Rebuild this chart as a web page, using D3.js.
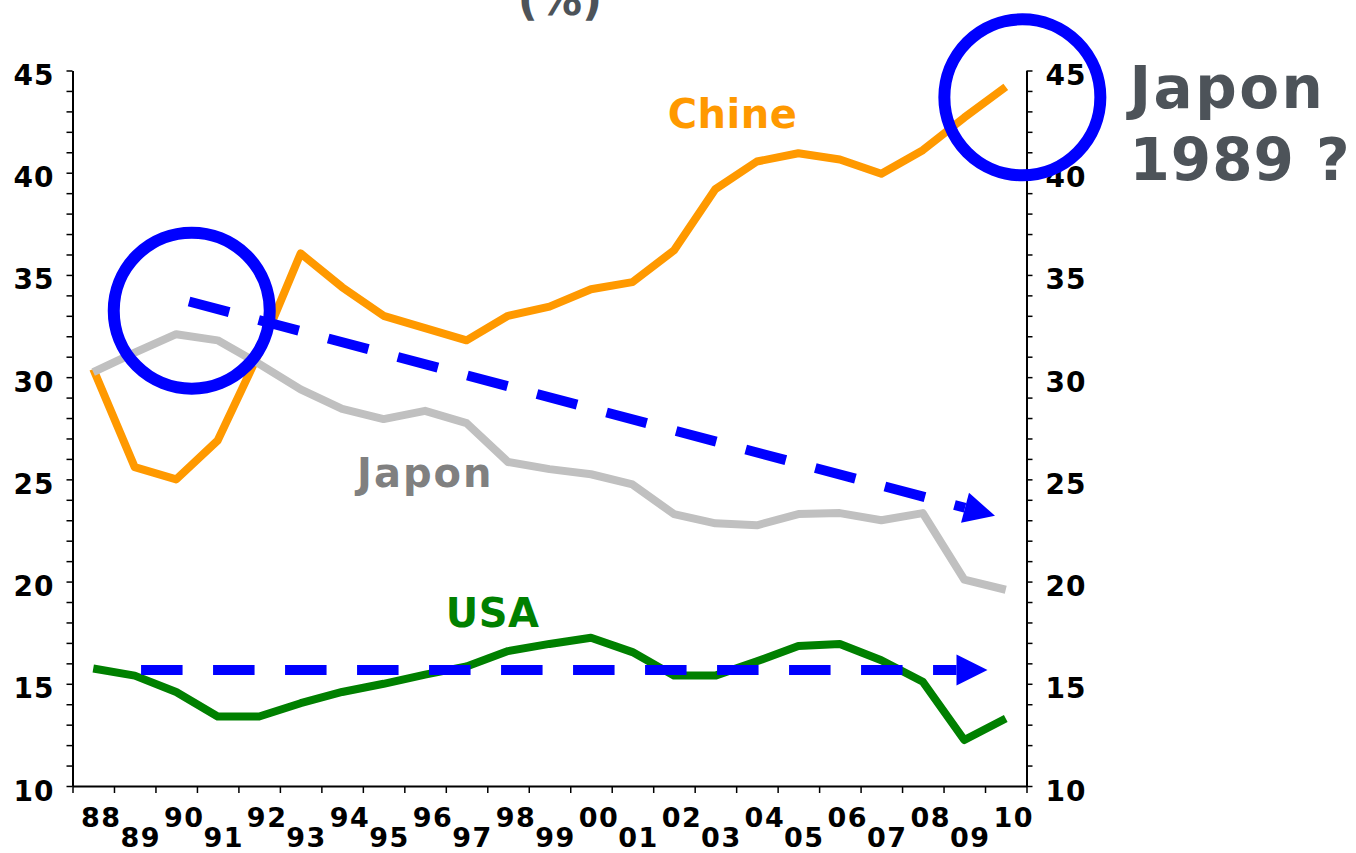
<!DOCTYPE html>
<html>
<head>
<meta charset="utf-8">
<script src="https://cdn.jsdelivr.net/npm/d3@7"></script>
<style>
  html, body { margin: 0; padding: 0; background: #fff; }
  svg { display: block; font-family: "DejaVu Sans", Verdana, sans-serif; font-weight: bold; }
</style>
</head>
<body>
<svg id="chart" width="1356" height="853"></svg>
<script>
// Years on the x axis (two-digit labels)
const years = ["88","89","90","91","92","93","94","95","96","97","98","99",
               "00","01","02","03","04","05","06","07","08","09","10"];

// Series values (%)
const chine = [30.4, 25.6, 25.0, 26.9, 31.2, 36.05, 34.4, 33.0, 32.4, 31.8, 33.0, 33.45,
               34.3, 34.65, 36.2, 39.2, 40.55, 40.95, 40.65, 39.95, 41.1, 42.7, 44.2];
const japon = [30.25, 31.2, 32.1, 31.8, 30.65, 29.4, 28.45, 27.95, 28.35, 27.75, 25.85, 25.5,
               25.25, 24.75, 23.3, 22.85, 22.75, 23.3, 23.35, 23.0, 23.35, 20.1, 19.6];
const usa   = [15.75, 15.4, 14.6, 13.4, 13.4, 14.05, 14.6, 15.0, 15.45, 15.85, 16.6, 16.95,
               17.25, 16.55, 15.4, 15.4, 16.1, 16.85, 16.95, 16.15, 15.1, 12.25, 13.3];

// Value axis: labelled every 5, minor tick every 1
const yDomain = [10, 45];
const yLabelStep = 5;

// Series names drawn next to the lines (position in year index / value units)
const seriesLabels = [
  { text: "Chine", i: 13.85, v: 42.2,  color: "#FF9900", spacing: 0.5 },
  { text: "Japon", i: 6.36,  v: 24.63, color: "#808080", spacing: 2 },
  { text: "USA",   i: 8.5,   v: 17.79, color: "#008000", spacing: 0.5 }
];

// Highlight circles and trend arrows (year index / value units)
const circleMarks = [ { i: 2.375, v: 33.25 }, { i: 22.4, v: 43.69 } ];
const trendArrows = [
  { from: [2.31, 33.70],  to: [21.74, 23.22] },
  { from: [1.153, 15.68], to: [21.56, 15.68] }
];

const svg = d3.select("#chart");
const margin = { top: 70.5, left: 72.5 };
const width = 954, height = 715.5;

const x = d3.scaleLinear().domain([-0.5, years.length - 0.5]).range([0, width]);
const y = d3.scaleLinear().domain(yDomain).range([height, 0]);

// Title fragment at the top edge
svg.append("text")
  .attr("x", 560).attr("y", 15)
  .attr("text-anchor", "middle")
  .attr("font-size", 44)
  .attr("fill", "#4D5359")
  .text("(%)");

const g = svg.append("g").attr("transform", `translate(${margin.left},${margin.top})`);

const yTickValues = d3.range(yDomain[0], yDomain[1] + 1, 1);
const fmt = d => (d % yLabelStep === 0 ? d : "");

function styleAxis(sel) {
  sel.select(".domain").attr("stroke", "#000").attr("stroke-width", 2);
  sel.selectAll(".tick line").attr("stroke", "#000").attr("stroke-width", 1.5);
  sel.selectAll(".tick text").attr("fill", "#000").attr("font-size", 28)
     .attr("letter-spacing", 1)
     .attr("font-family", "DejaVu Sans").attr("font-weight", "bold");
}

// Left value axis
const gl = g.append("g")
  .call(d3.axisLeft(y).tickValues(yTickValues).tickSize(6).tickSizeOuter(0)
        .tickPadding(12).tickFormat(fmt));
styleAxis(gl);
gl.selectAll(".tick text").attr("dy", "0.5em");

// Right value axis
const gr = g.append("g").attr("transform", `translate(${width},0)`)
  .call(d3.axisRight(y).tickValues(yTickValues).tickSize(6).tickSizeOuter(0)
        .tickPadding(13).tickFormat(fmt));
styleAxis(gr);
gr.selectAll(".tick text").attr("dy", "0.5em");

// Category axis: ticks between years
const gb = g.append("g").attr("transform", `translate(0,${height})`)
  .call(d3.axisBottom(x).tickValues(d3.range(-0.5, years.length, 1))
        .tickSize(7).tickSizeOuter(0).tickFormat(""));
styleAxis(gb);

// Staggered year labels
g.append("g").selectAll("text").data(years).join("text")
  .attr("x", (d, i) => x(i) + (i % 2 ? 6 : 8))
  .attr("y", (d, i) => height + (i % 2 ? 61 : 41))
  .attr("text-anchor", "middle")
  .attr("font-size", 27)
  .attr("letter-spacing", 1.5)
  .attr("fill", "#000")
  .text(d => d);

// Series lines
const line = d3.line().x((d, i) => x(i)).y(d => y(d));
const series = [
  { values: chine, color: "#FF9900" },
  { values: japon, color: "#C0C0C0" },
  { values: usa,   color: "#008000" }
];
g.append("g").selectAll("path").data(series).join("path")
  .attr("d", d => line(d.values))
  .attr("fill", "none")
  .attr("stroke", d => d.color)
  .attr("stroke-width", 8)
  .attr("stroke-linejoin", "round")
  .attr("stroke-linecap", "butt");

// Series names
g.append("g").selectAll("text").data(seriesLabels).join("text")
  .attr("x", d => x(d.i))
  .attr("y", d => y(d.v))
  .attr("font-size", 40)
  .attr("letter-spacing", d => d.spacing)
  .attr("fill", d => d.color)
  .text(d => d.text);

// Highlight circles
g.append("g").selectAll("circle").data(circleMarks).join("circle")
  .attr("cx", d => x(d.i))
  .attr("cy", d => y(d.v))
  .attr("r", 78)
  .attr("fill", "none")
  .attr("stroke", "#0000FF")
  .attr("stroke-width", 12);

// Dashed trend arrows
const headLen = 31, headHalf = 15.5;
const ga = g.append("g");
trendArrows.forEach(a => {
  const p0 = [x(a.from[0]), y(a.from[1])];
  const p1 = [x(a.to[0]), y(a.to[1])];
  const dx = p1[0] - p0[0], dy = p1[1] - p0[1];
  const len = Math.hypot(dx, dy);
  const ux = dx / len, uy = dy / len;
  const base = [p1[0] - ux * headLen, p1[1] - uy * headLen];
  ga.append("line")
    .attr("x1", p0[0]).attr("y1", p0[1])
    .attr("x2", base[0]).attr("y2", base[1])
    .attr("stroke", "#0000FF")
    .attr("stroke-width", 10)
    .attr("stroke-dasharray", "41.5,30.5");
  ga.append("path")
    .attr("d", `M${p1[0]},${p1[1]}L${base[0] - uy * headHalf},${base[1] + ux * headHalf}` +
               `L${base[0] + uy * headHalf},${base[1] - ux * headHalf}Z`)
    .attr("fill", "#0000FF");
});

// Side note
const note = svg.append("g").attr("fill", "#4D5359").attr("font-size", 58);
note.append("text").attr("x", margin.left + width + 103).attr("y", 108)
  .attr("letter-spacing", 2.5).text("Japon");
note.append("text").attr("x", margin.left + width + 103).attr("y", 180)
  .attr("letter-spacing", 1).text("1989 ?");
</script>
</body>
</html>
